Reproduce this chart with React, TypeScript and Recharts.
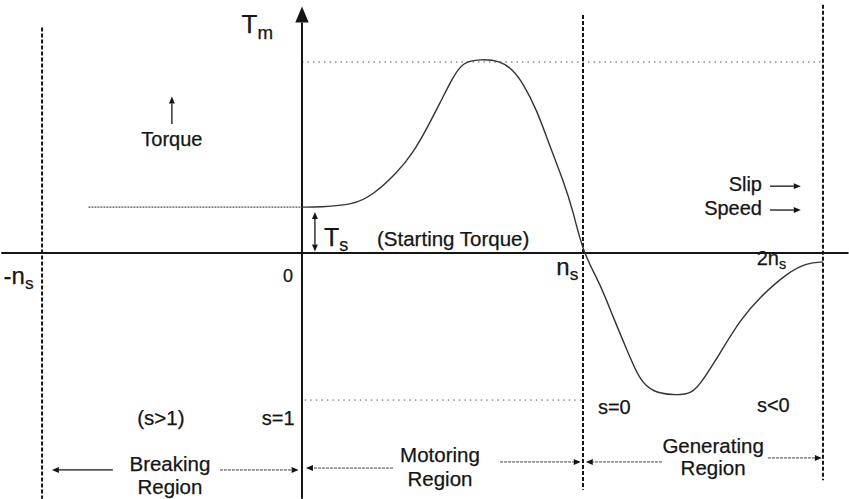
import React from 'react'
import { LineChart, Line, XAxis, YAxis, ReferenceLine, ReferenceDot } from 'recharts'

// speed in units of n_s, torque in units of T_m
const brakingSpeed = [-0.76, 0]
const brakingTorque = [0.24, 0.24]

const motorSpeed = [
  0, 0.064, 0.181, 0.253, 0.338, 0.395, 0.445, 0.491, 0.537, 0.573, 0.633, 0.705, 0.751, 0.786,
  0.836, 0.883, 0.929, 0.964, 1.0, 1.06, 1.107, 1.157, 1.203, 1.249, 1.32, 1.39, 1.427, 1.488,
  1.559, 1.63, 1.726, 1.797, 1.854,
]
const motorTorque = [
  0.24, 0.241, 0.251, 0.304, 0.419, 0.524, 0.654, 0.785, 0.921, 1.0, 1.015, 1.008, 0.958, 0.89,
  0.749, 0.555, 0.382, 0.225, 0, -0.157, -0.335, -0.51, -0.67, -0.728, -0.745, -0.738, -0.665,
  -0.524, -0.351, -0.23, -0.105, -0.052, -0.047,
]

const boundaries = [-0.925, 1, 1.854]
const maxTorque = 1
const minTorque = -0.77

const data = [
  ...brakingSpeed.slice(0, -1).map((x, i) => ({ x, brake: brakingTorque[i] })),
  ...motorSpeed.map((x, i) => ({
    x,
    motor: motorTorque[i],
    brake: x === 0 ? brakingTorque[brakingTorque.length - 1] : undefined,
  })),
]

const X_DOMAIN = [-1.0747, 1.9466]
const Y_DOMAIN = [-1.288, 1.3246]
const FONT = '"Liberation Sans", Arial, sans-serif'
const INK = '#151515'

type Label = { x: number; y: number; text: string; sub?: string; size: number; anchor?: string }

const labels: Label[] = [
  { x: -0.215, y: 1.152, text: 'T', sub: 'm', size: 26 },
  { x: -0.463, y: 0.56, text: 'Torque', size: 20, anchor: 'middle' },
  { x: 0.078, y: 0.037, text: 'T', sub: 's', size: 25 },
  { x: 0.267, y: 0.037, text: '(Starting Torque)', size: 20.5 },
  { x: -1.062, y: -0.162, text: '-n', sub: 's', size: 24 },
  { x: -0.05, y: -0.152, text: '0', size: 18, anchor: 'middle' },
  { x: 0.905, y: -0.115, text: 'n', sub: 's', size: 24 },
  { x: 1.618, y: -0.063, text: '2n', sub: 's', size: 20 },
  { x: 1.637, y: 0.325, text: 'Slip', size: 20, anchor: 'end' },
  { x: 1.637, y: 0.2, text: 'Speed', size: 20, anchor: 'end' },
  { x: -0.502, y: -0.9, text: '(s>1)', size: 20.5, anchor: 'middle' },
  { x: -0.085, y: -0.9, text: 's=1', size: 20, anchor: 'middle' },
  { x: 1.053, y: -0.843, text: 's=0', size: 20 },
  { x: 1.619, y: -0.832, text: 's<0', size: 20 },
  { x: -0.47, y: -1.141, text: 'Breaking', size: 20.5, anchor: 'middle' },
  { x: -0.47, y: -1.262, text: 'Region', size: 20.5, anchor: 'middle' },
  { x: 0.491, y: -1.094, text: 'Motoring', size: 20.5, anchor: 'middle' },
  { x: 0.491, y: -1.22, text: 'Region', size: 20.5, anchor: 'middle' },
  { x: 1.463, y: -1.047, text: 'Generating', size: 20.5, anchor: 'middle' },
  { x: 1.463, y: -1.162, text: 'Region', size: 20.5, anchor: 'middle' },
]

// arrows: [from, to], head drawn at "to"
const arrows: { from: [number, number]; to: [number, number]; dash?: boolean }[] = [
  { from: [-0.463, 0.675], to: [-0.463, 0.82] },
  { from: [1.665, 0.35], to: [1.775, 0.35] },
  { from: [1.665, 0.225], to: [1.775, 0.225] },
  { from: [0.046, 0.12], to: [0.046, 0.215] },
  { from: [0.046, 0.12], to: [0.046, 0.008] },
  { from: [-0.673, -1.136], to: [-0.89, -1.136] },
  { from: [-0.292, -1.136], to: [-0.012, -1.136], dash: true },
  { from: [0.324, -1.126], to: [0.014, -1.126], dash: true },
  { from: [0.705, -1.094], to: [0.992, -1.094], dash: true },
  { from: [1.281, -1.094], to: [1.01, -1.094], dash: true },
  { from: [1.658, -1.073], to: [1.85, -1.073], dash: true },
]

function arrowShape(dash?: boolean, head = 8, width = 1.3) {
  return (p: any) => {
    const { x1, y1, x2, y2 } = p
    const a = Math.atan2(y2 - y1, x2 - x1)
    const w = head * 0.42
    const bx = x2 - head * Math.cos(a)
    const by = y2 - head * Math.sin(a)
    const pts = [
      [x2, y2],
      [bx + w * Math.sin(a), by - w * Math.cos(a)],
      [bx - w * Math.sin(a), by + w * Math.cos(a)],
    ]
      .map((q) => q.join(','))
      .join(' ')
    return (
      <g>
        <line
          x1={x1}
          y1={y1}
          x2={bx}
          y2={by}
          stroke={dash ? '#444' : INK}
          strokeWidth={dash ? 1 : width}
          strokeDasharray={dash ? '3 1' : undefined}
        />
        <polygon points={pts} fill={INK} />
      </g>
    )
  }
}

function textShape(l: Label) {
  return (p: any) => (
    <text
      x={p.cx}
      y={p.cy}
      fontFamily={FONT}
      fontSize={l.size}
      fill={INK}
      stroke={INK}
      strokeWidth={0.25}
      textAnchor={l.anchor ?? 'start'}
    >
      {l.text}
      {l.sub && (
        <tspan fontSize={l.size * 0.72} dy={l.size * 0.22}>
          {l.sub}
        </tspan>
      )}
    </text>
  )
}

export default function App() {
  return (
    <div style={{ width: 849, height: 499, background: '#fff' }}>
      <style>{'body{margin:0}'}</style>
      <LineChart width={849} height={499} data={data} margin={{ top: 0, right: 0, bottom: 0, left: 0 }}>
        <XAxis type="number" dataKey="x" domain={X_DOMAIN} hide allowDataOverflow />
        <YAxis type="number" domain={Y_DOMAIN} hide allowDataOverflow />

        {/* dotted level lines */}
        <ReferenceLine
          segment={[{ x: 0, y: maxTorque }, { x: boundaries[2], y: maxTorque }]}
          stroke="#555"
          strokeWidth={1}
          strokeDasharray="1.5 4"
        />
        <ReferenceLine
          segment={[{ x: 0.01, y: minTorque }, { x: boundaries[1], y: minTorque }]}
          stroke="#555"
          strokeWidth={1}
          strokeDasharray="1.5 4"
        />

        {/* dashed region boundaries */}
        <ReferenceLine
          segment={[{ x: boundaries[0], y: 1.18 }, { x: boundaries[0], y: -1.287 }]}
          stroke={INK}
          strokeWidth={2}
          strokeDasharray="4 2"
        />
        <ReferenceLine
          segment={[{ x: boundaries[1], y: 1.246 }, { x: boundaries[1], y: -1.24 }]}
          stroke={INK}
          strokeWidth={2}
          strokeDasharray="4 2"
        />
        <ReferenceLine
          segment={[{ x: boundaries[2], y: 1.3 }, { x: boundaries[2], y: -1.19 }]}
          stroke={INK}
          strokeWidth={2}
          strokeDasharray="4 2"
        />

        {/* axes */}
        <ReferenceLine
          segment={[{ x: -1.07, y: 0 }, { x: 1.945, y: 0 }]}
          stroke={INK}
          strokeWidth={2}
        />
        <ReferenceLine
          segment={[{ x: 0, y: -1.287 }, { x: 0, y: 1.29 }]}
          shape={arrowShape(false, 16, 2)}
        />

        <Line
          type="linear"
          dataKey="brake"
          stroke="#555"
          strokeWidth={1.2}
          strokeDasharray="2 1"
          dot={false}
          activeDot={false}
          isAnimationActive={false}
        />
        <Line
          type="basis"
          dataKey="motor"
          stroke="#333"
          strokeWidth={1.4}
          dot={false}
          activeDot={false}
          isAnimationActive={false}
        />

        {arrows.map((a, i) => (
          <ReferenceLine
            key={'a' + i}
            segment={[{ x: a.from[0], y: a.from[1] }, { x: a.to[0], y: a.to[1] }]}
            shape={arrowShape(a.dash, 7)}
          />
        ))}

        {labels.map((l, i) => (
          <ReferenceDot key={'l' + i} x={l.x} y={l.y} r={0} shape={textShape(l)} />
        ))}
      </LineChart>
    </div>
  )
}
